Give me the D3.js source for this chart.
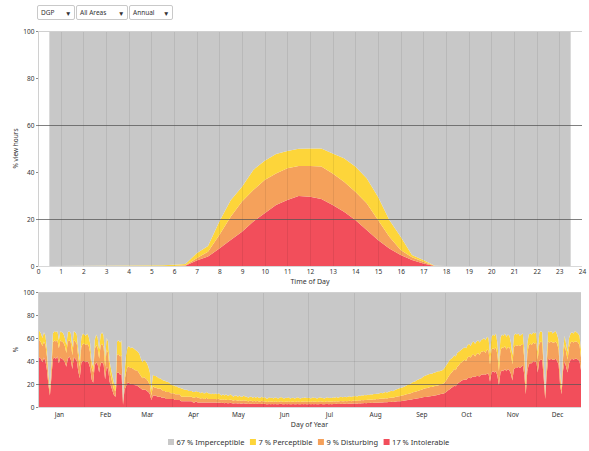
<!DOCTYPE html>
<html>
<head>
<meta charset="utf-8">
<script src="https://cdn.jsdelivr.net/npm/d3@7"></script>
<style>
  body { margin: 0; background: #fff; font-family: "Noto Sans", "Open Sans", sans-serif; }
  svg text { fill: #333; }
</style>
</head>
<body>
<div id="chart"></div>
<script>
// glare categories, bottom of the stack last
const categories = ['Imperceptible', 'Perceptible', 'Disturbing', 'Intolerable'];
const shares = [67, 7, 9, 17];
const colors = ['#c8c8c8', '#fdd53a', '#f5a15b', '#f24e5b'];
const dropdowns = ['DGP', 'All Areas', 'Annual'];
const dropdownWidths = [37, 51, 43];

// average day profile (% view hours)
const hours = [0.5, 5.5, 6, 6.5, 7, 7.5, 8, 8.5, 9, 9.5, 10, 10.5, 11, 11.5, 12, 12.5, 13, 13.5, 14, 14.5, 15, 15.5, 16, 16.5, 17, 17.5, 18, 23.5];
const hourIntolerable = [0, 0, 0, 0.1, 2.3, 4, 7.5, 11.1, 14.6, 18.9, 22.4, 26, 28.1, 29.8, 29.5, 28.5, 26, 23.1, 19.6, 15.3, 11.1, 7.5, 4.7, 2.6, 1.1, 0, 0, 0];
const hourDisturbing = [0, 0, 0, 0.2, 1.0, 2.1, 5.7, 9.9, 12.8, 13.4, 14.2, 13.4, 13.5, 12.8, 13.1, 13.8, 13.4, 12.8, 12, 11.4, 8.5, 5, 2.1, 1.1, 0.7, 0, 0, 0];
const hourPerceptible = [0, 0.3, 0.5, 0.6, 2.1, 2.4, 5.7, 7, 6.3, 8.6, 8.2, 8.3, 7.3, 7.3, 7.4, 7.7, 8.5, 9.9, 10.7, 10.6, 9.9, 7.1, 5.7, 1, 0.8, 0.1, 0, 0];

// day of year (%), one line per month
const intolerable = [
  44,43,42,39,43,40,32,19,10,26,42,43,42,44,38,43,42,41,39,35,42,44,41,33,43,42,40,31,25,38,40,
  40,39,40,38,34,24,21,36,39,37,30,38,39,37,24,35,33,22,18,14,10,9,30,30,28,29,2,15,
  18,21,21,20,20,20,19,19,18,17,16,15,15,15,14,13,11,6,10,10,10,9,9,9,8,8,8,7,7,7,7,
  7,7,6,6,6,6,5,5,5,5,5,5,5,5,4,4,5,4,4,4,4,4,4,4,4,4,4,4,4,4,
  3.8,4,3.6,3.4,3.7,3.3,3.6,3.3,3.3,3.6,3.3,3,3.3,3.2,3,3.2,2.9,3,3.2,2.9,2.9,2.6,2.9,2.9,2.6,2.9,2.6,2.9,2.6,2.6,2.9,
  2.6,2.8,2.5,2.4,2.7,2.5,2.6,2.4,2.7,2.5,2.4,2.6,2.8,2.5,2.4,2.6,2.5,2.7,2.4,2.5,2.6,2.4,2.5,2.7,2.5,2.4,2.6,2.5,2.7,2.5,
  2.5,2.6,2.4,2.7,2.5,2.6,2.4,2.5,2.7,2.6,2.5,2.4,2.6,2.7,2.5,2.6,2.5,2.7,2.6,2.8,2.6,2.7,2.9,2.7,2.8,2.9,2.7,2.9,3.0,2.8,3.0,
  3.0,3.1,2.9,3.2,3.1,3.3,3.2,3.4,3.3,3.5,3.4,3.6,3.5,3.7,3.6,3.8,3.7,3.9,4.0,3.9,4.1,4.2,4.1,4.3,4.4,4.5,4.4,4.6,4.8,4.9,5.0,
  5.1,5.3,5.5,5.6,5.8,6,6.2,6.4,6.7,7,7.2,7.5,7.7,7.9,8.1,8.4,8.6,8.8,9,9.2,9.4,9.6,9.8,10,10.3,10.6,10.9,11.2,11.5,11.8,
  12.5,13.5,14.5,15.5,16.5,17.5,18.5,18,20,21,22,23,23.5,24,23.5,25,25.5,25,26,26.5,26,27,27,26.5,28,28,28.5,28,29,29,22,
  30,31,30,31,27,19,30,32,31,33,31,33,32,29,23,33,34,34,35,34,35,36,28,11,31,37,38,38,40,39,
  40,30,40,41,41,25,7,28,42,41,42,41,41,42,40,37,19,11,32,40,35,30,38,41,42,41,42,42,41,40,32
];
const disturbing = [
  15,15,14,14,14,14,12,7,4,9,14,15,15,14,13,15,15,15,14,12,15,14,15,12,15,15,15,12,10,14,15,
  15,15,15,15,13,10,9,14,15,14,12,16,16,15,11,15,14,10,8,6,5,5,15,16,16,16,1,8,
  12,14,14,14,14,13,13,13,13,12,11,10,11,10,10,9,8,4,8,7,7,7,7,7,7,6,6,6,6,6,5,
  5,5,5,5,5,5,4,4,4,4,4,4,4,4,4,4,4,4,4,3,4,3,3,4,3,3,3,3,3,3,
  3,3.2,3,2.8,3,2.8,3,2.8,2.8,3,2.7,2.5,2.7,2.7,2.5,2.7,2.5,2.5,2.7,2.5,2.5,2.2,2.5,2.5,2.2,2.5,2.2,2.5,2.2,2.2,2.5,
  2.1,2.3,2.0,2.0,2.2,2.1,2.1,2.0,2.2,2.1,2.0,2.1,2.3,2.1,2.0,2.1,2.1,2.2,2.0,2.1,2.1,2.0,2.1,2.2,2.1,2.0,2.1,2.1,2.2,2.1,
  2.1,2.1,2.0,2.2,2.1,2.1,2.0,2.1,2.2,2.1,2.1,2.0,2.1,2.2,2.1,2.1,2.1,2.2,2.1,2.3,2.1,2.2,2.3,2.2,2.3,2.3,2.2,2.4,2.4,2.3,2.4,
  2.5,2.5,2.4,2.6,2.5,2.7,2.6,2.7,2.7,2.8,2.8,2.9,2.9,3.0,3.0,3.1,3.1,3.2,3.3,3.2,3.4,3.5,3.4,3.6,3.7,3.8,3.7,3.9,4.1,4.2,4.4,
  4.5,4.7,4.8,5,5.2,5.4,5.6,5.6,5.9,6,6.1,6.3,6.5,6.6,6.9,7.1,7.4,7.5,7.6,7.8,7.9,7.9,8,8.2,8.2,8.2,8.3,8.4,8.5,8.8,
  9.5,10.5,11.5,12.5,13,13.5,14.5,14,15,15,16,16,16.5,17,16.5,18,18.5,18,19,19.5,18,19,20,18.5,20,20,20.5,19,21,20,15,
  20,20,20,21,18,12,19,20,20,20,19,19,20,18,14,19,20,19,19,19,19,19,14,6,15,17,17,16,16,16,
  16,11,15,16,15,9,3,10,15,15,15,15,15,15,15,13,7,4,11,14,13,11,14,15,15,15,15,15,15,14,11
];
const perceptible = [
  8,8,8,7,8,8,6,4,2,5,8,8,8,8,7,8,8,8,7,7,8,8,8,7,8,8,8,7,5,8,9,
  8,8,9,8,8,6,5,8,9,9,8,9,10,10,7,10,10,8,7,6,5,4,12,12,12,13,1,7,
  15,17,18,17,18,18,18,17,17,17,15,14,15,15,14,13,11,5,10,10,10,10,9,9,9,9,9,9,9,8,8,
  7,7,7,7,6,6,7,7,6,6,6,5,5,5,5,5,5,5,5,5,5,5,5,5,5,5,4,5,4,5,
  4.2,4.8,4.4,3.8,4.3,3.9,4.4,3.9,3.9,4.4,4,3.5,4,4.1,3.5,4.1,3.6,3.5,4.1,3.6,3.6,3.2,3.6,3.6,3.2,3.6,3.2,3.6,3.2,3.2,3.6,
  3.3,3.6,3.0,3.1,3.5,3.2,3.4,3.0,3.5,3.2,3.1,3.3,3.7,3.2,3.0,3.4,3.2,3.5,3.0,3.2,3.4,3.0,3.2,3.5,3.2,3.1,3.3,3.2,3.5,3.2,
  3.2,3.4,3.0,3.5,3.2,3.3,3.0,3.2,3.6,3.3,3.2,3.0,3.4,3.6,3.2,3.3,3.2,3.5,3.3,3.7,3.3,3.5,3.8,3.5,3.7,3.8,3.5,3.9,4.0,3.7,4.0,
  3.9,4.0,3.8,4.1,4.0,4.2,4.1,4.3,4.2,4.4,4.3,4.5,4.5,4.6,4.6,4.7,4.7,4.8,5.0,4.9,5.1,5.3,5.2,5.4,5.6,5.8,5.7,6.0,6.3,6.5,6.8,
  6.9,7,7.2,7.4,7.8,8.1,8.2,8.5,8.9,9,9.2,9.7,9.8,10,10,10.5,11,11.2,11.4,11.5,11.7,11.5,11.7,11.8,12,12.2,11.8,11.9,12,12.4,
  13,13,13,13,12.5,12,12,12,12,12,11,11,11,11,11,11,11,10,11,11,11,11,11,11,10,11,11,11,11,11,9,
  11,12,12,12,10,7,11,11,11,11,11,11,10,9,8,10,10,10,10,9,9,9,8,4,9,9,9,9,9,9,
  9,7,9,9,9,6,2,7,9,9,9,8,9,9,8,8,4,3,7,8,7,7,8,8,8,8,9,8,8,8,7
];
const months = ['Jan', 'Feb', 'Mar', 'Apr', 'May', 'Jun', 'Jul', 'Aug', 'Sep', 'Oct', 'Nov', 'Dec'];
const monthStarts = [0, 31, 59, 90, 120, 151, 181, 212, 243, 273, 304, 334];

const width = 589, height = 451;
const svg = d3.select('#chart').append('svg')
    .attr('width', width)
    .attr('height', height)
    .style('display', 'block');

const keys = ['intolerable', 'disturbing', 'perceptible', 'imperceptible'];
const keyColor = {
    intolerable: colors[3], disturbing: colors[2],
    perceptible: colors[1], imperceptible: colors[0]
};

const toRows = (xs, r, d, p) => xs.map((x, i) => ({
    x,
    intolerable: r[i],
    disturbing: d[i],
    perceptible: p[i],
    imperceptible: 100 - r[i] - d[i] - p[i]
}));

const stack = d3.stack().keys(keys);

// dropdown boxes
const dd = svg.append('g').attr('font-size', 6.5);
let bx = 37;
dropdowns.forEach((label, i) => {
    const w = dropdownWidths[i];
    const g = dd.append('g').attr('transform', `translate(${bx},5)`);
    g.append('rect').attr('x', 0.5).attr('y', 0.5).attr('width', w).attr('height', 14)
        .attr('fill', '#fff').attr('stroke', '#c9c9c9').attr('rx', 1.5);
    g.append('text').attr('x', 4).attr('y', 10).text(label);
    g.append('text').attr('x', w - 9).attr('y', 10.5).attr('font-size', 6.5).attr('fill', '#222').text('▼');
    bx += w + 2;
});

function panel(opts) {
    const { rows, x, y, title, ylabel, grid, vgrid, xticks, xfmt, xLabelY, titleY } = opts;
    const g = svg.append('g');
    const [x0, x1] = x.range();
    const [y0, y1] = y.range();

    const series = stack(rows);
    const area = d3.area()
        .x(d => x(d.data.x))
        .y0(d => y(d[0]))
        .y1(d => y(d[1]));

    g.append('g').selectAll('path')
        .data(series)
        .join('path')
        .attr('fill', d => keyColor[d.key])
        .attr('d', area);

    // vertical grid
    g.append('g').selectAll('line')
        .data(vgrid)
        .join('line')
        .attr('x1', d => Math.round(x(d)) + 0.5).attr('x2', d => Math.round(x(d)) + 0.5)
        .attr('y1', y1).attr('y2', y0)
        .attr('stroke', '#000').attr('stroke-opacity', 0.07);

    // frame
    g.append('line').attr('x1', x0).attr('x2', x1).attr('y1', y1 + 0.5).attr('y2', y1 + 0.5)
        .attr('stroke', '#d0d0d0');
    g.append('line').attr('x1', x0).attr('x2', x1).attr('y1', y0 + 0.5).attr('y2', y0 + 0.5)
        .attr('stroke', '#d8d8d8');
    g.append('line').attr('x1', x0 + 0.5).attr('x2', x0 + 0.5).attr('y1', y1).attr('y2', y0)
        .attr('stroke', '#d0d0d0');

    // horizontal grid lines
    g.append('g').selectAll('line')
        .data(grid)
        .join('line')
        .attr('x1', x0).attr('x2', x1)
        .attr('y1', d => Math.round(y(d.v)) + 0.5).attr('y2', d => Math.round(y(d.v)) + 0.5)
        .attr('stroke', '#555').attr('stroke-opacity', d => d.o);

    // y axis
    const ya = g.append('g')
        .attr('transform', `translate(${x0},0)`)
        .call(d3.axisLeft(y).tickValues([0, 20, 40, 60, 80, 100]).tickSize(2).tickPadding(1.5));
    ya.select('.domain').remove();
    ya.selectAll('line').attr('stroke', '#888');
    ya.selectAll('text').attr('font-size', 6.5).attr('font-family', 'Noto Sans').attr('fill', '#444');

    // x axis
    const xa = g.append('g')
        .attr('transform', `translate(0,${y0})`)
        .call(d3.axisBottom(x).tickValues(xticks).tickFormat(xfmt).tickSize(0).tickPadding(xLabelY));
    xa.select('.domain').remove();
    xa.selectAll('text').attr('font-size', 6.5).attr('font-family', 'Noto Sans').attr('fill', '#444');

    g.append('text')
        .attr('x', (x0 + x1) / 2).attr('y', titleY)
        .attr('text-anchor', 'middle').attr('font-size', 7)
        .text(title);

    g.append('text')
        .attr('transform', `translate(18,${(y0 + y1) / 2}) rotate(-90)`)
        .attr('text-anchor', 'middle').attr('font-size', 6.5)
        .text(ylabel);
}

// time of day
const xHour = d3.scaleLinear().domain([0, 24]).range([38, 582]);
const yHour = d3.scaleLinear().domain([0, 100]).range([266, 31]);
panel({
    rows: toRows(hours, hourIntolerable, hourDisturbing, hourPerceptible),
    x: xHour, y: yHour,
    title: 'Time of Day', ylabel: '% view hours',
    grid: [{ v: 20, o: 0.75 }, { v: 60, o: 0.75 }],
    vgrid: d3.range(1, 24),
    xticks: d3.range(0, 25), xfmt: d => d, xLabelY: 3,
    titleY: 284
});

// day of year
const days = d3.range(intolerable.length);
const xDay = d3.scaleLinear().domain([0, 364]).range([38, 581]);
const yDay = d3.scaleLinear().domain([0, 100]).range([407, 292]);
panel({
    rows: toRows(days, intolerable, disturbing, perceptible),
    x: xDay, y: yDay,
    title: 'Day of Year', ylabel: '%',
    grid: [{ v: 20, o: 0.7 }, { v: 40, o: 0.15 }],
    vgrid: monthStarts.slice(1),
    xticks: monthStarts.map(d => d + 14), xfmt: (d, i) => months[i], xLabelY: 5,
    titleY: 427
});

// legend
const legend = svg.append('g').attr('font-size', 7.5);
let lx = 168;
categories.forEach((c, i) => {
    const g = legend.append('g').attr('transform', `translate(${lx},439)`);
    g.append('rect').attr('width', 6).attr('height', 6).attr('fill', colors[i]);
    const t = g.append('text').attr('x', 8.5).attr('y', 6).text(`${shares[i]} % ${c}`);
    lx += 8.5 + t.node().getComputedTextLength() + 5.5;
});
</script>
</body>
</html>
